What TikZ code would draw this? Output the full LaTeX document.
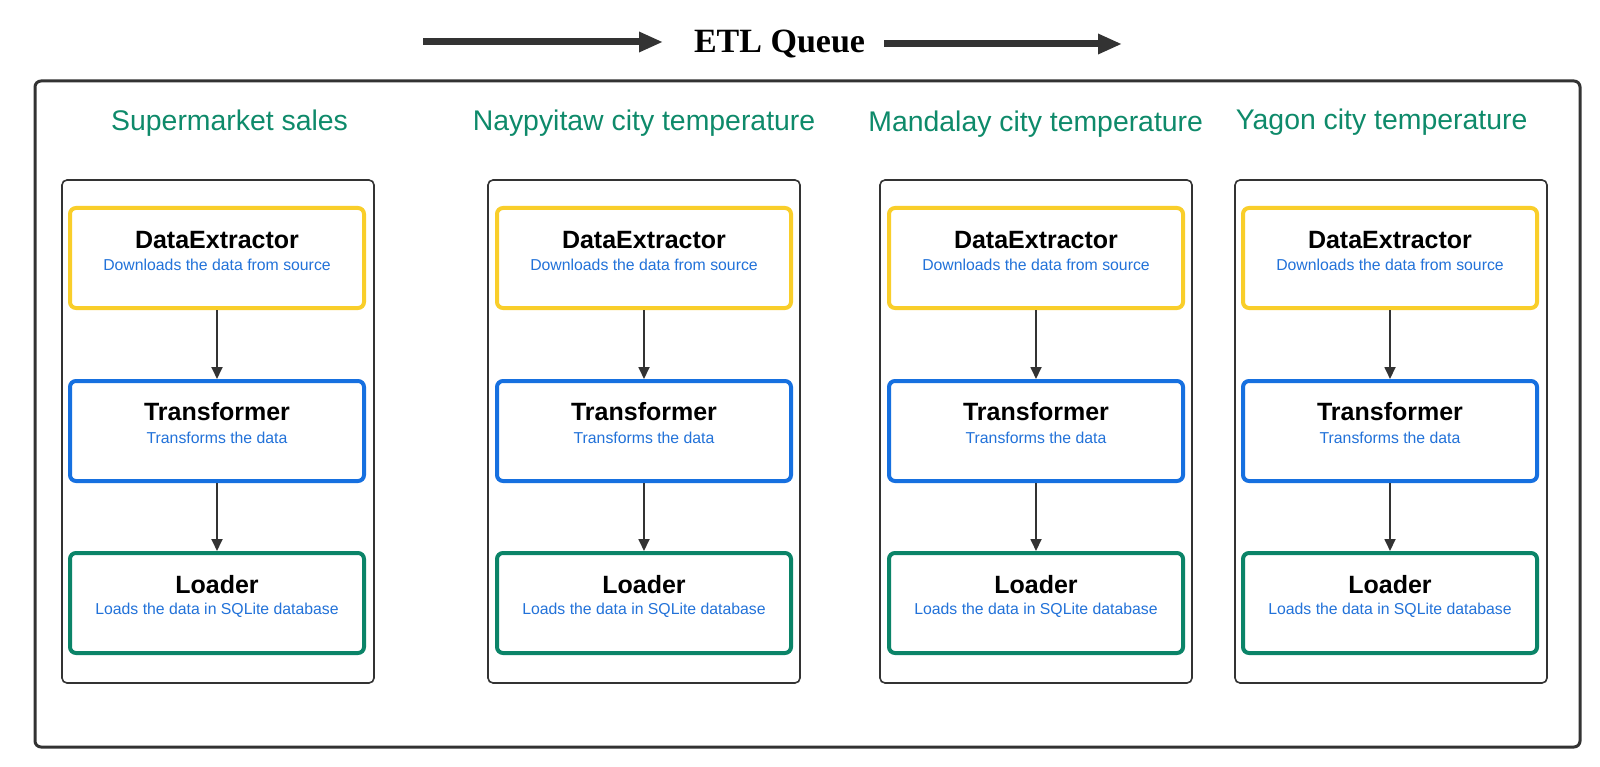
\documentclass[tikz,border=0pt]{standalone}
\usepackage{fontspec}
\setmainfont{Liberation Sans}
\newfontfamily\etlserif{Liberation Serif}
\usetikzlibrary{arrows.meta}
\definecolor{dark}{HTML}{333333}
\definecolor{ybox}{HTML}{F9CE2A}
\definecolor{bbox}{HTML}{1670E0}
\definecolor{gbox}{HTML}{0B8468}
\definecolor{subblue}{HTML}{2272D9}
\definecolor{titlegreen}{HTML}{0E8A6A}
\tikzset{
  outerbox/.style={draw=dark, line width=3pt, rounded corners=6pt},
  groupbox/.style={draw=dark, line width=1.6pt, rounded corners=5pt, minimum width=312pt, minimum height=503pt, inner sep=0pt},
  stagebox/.style={line width=4pt, rounded corners=6pt, minimum width=294pt, minimum height=100pt, inner sep=0pt, fill=white},
  stagename/.style={font=\fontsize{25}{30}\selectfont\bfseries, text=black, inner sep=0pt},
  stagesub/.style={font=\fontsize{15.8}{19}\selectfont, text=subblue, inner sep=0pt},
  coltitle/.style={font=\fontsize{28.4}{34}\selectfont, text=titlegreen, inner sep=0pt},
  flow/.style={draw=dark, line width=1.8pt, -{Triangle[length=12pt, width=11pt]}},
  queuearrow/.style={draw=dark, line width=7pt, -{Triangle[length=24pt, width=19pt]}},
}
\begin{document}
\begin{tikzpicture}[x=1pt, y=-1pt]
\useasboundingbox (0,0) rectangle (1600,767);
\fill[white] (0,0) rectangle (1600,767);
% title
\node[font=\etlserif\fontsize{34}{40}\selectfont\bfseries, inner sep=0pt] (etl) at (779.5,44) {ETL Queue};
\coordinate (qa1) at (423,42);
\coordinate (qa2) at (663,42);
\coordinate (qb1) at (884,44);
\coordinate (qb2) at (1122,44);
\draw[queuearrow] (qa1) -- (qa2);
\draw[queuearrow] (qb1) -- (qb2);
% outer queue box
\node[outerbox, minimum width=1545pt, minimum height=666pt, inner sep=0pt] (queue) at (807.5,414) {};
% column titles
\node[coltitle] (t1) at (229.6,123) {Supermarket sales};
\node[coltitle] (t2) at (644,123) {Naypyitaw city temperature};
\node[coltitle] (t3) at (1035.7,124.5) {Mandalay city temperature};
\node[coltitle] (t4) at (1381.6,122.5) {Yagon city temperature};
% columns
\foreach \i/\cx/\gx in {1/217/218, 2/644/644, 3/1036/1036, 4/1390/1391} {
  \node[groupbox] (g\i) at (\gx,431.5) {};
  \node[stagebox, draw=ybox] (e\i) at (\cx,258) {};
  \node[stagebox, draw=bbox] (tr\i) at (\cx,431) {};
  \node[stagebox, draw=gbox] (l\i) at (\cx,603) {};
  \node[stagename] (en\i) at (\cx,240) {DataExtractor};
  \node[stagesub] (es\i) at (\cx,265) {Downloads the data from source};
  \node[stagename] (tn\i) at (\cx,412) {Transformer};
  \node[stagesub] (ts\i) at (\cx,438) {Transforms the data};
  \node[stagename] (ln\i) at (\cx,585) {Loader};
  \node[stagesub] (ls\i) at (\cx,610) {Loads the data in SQLite database};
  \draw[flow] (e\i.south) -- (tr\i.north);
  \draw[flow] (tr\i.south) -- (l\i.north);
}
\end{tikzpicture}
\end{document}
